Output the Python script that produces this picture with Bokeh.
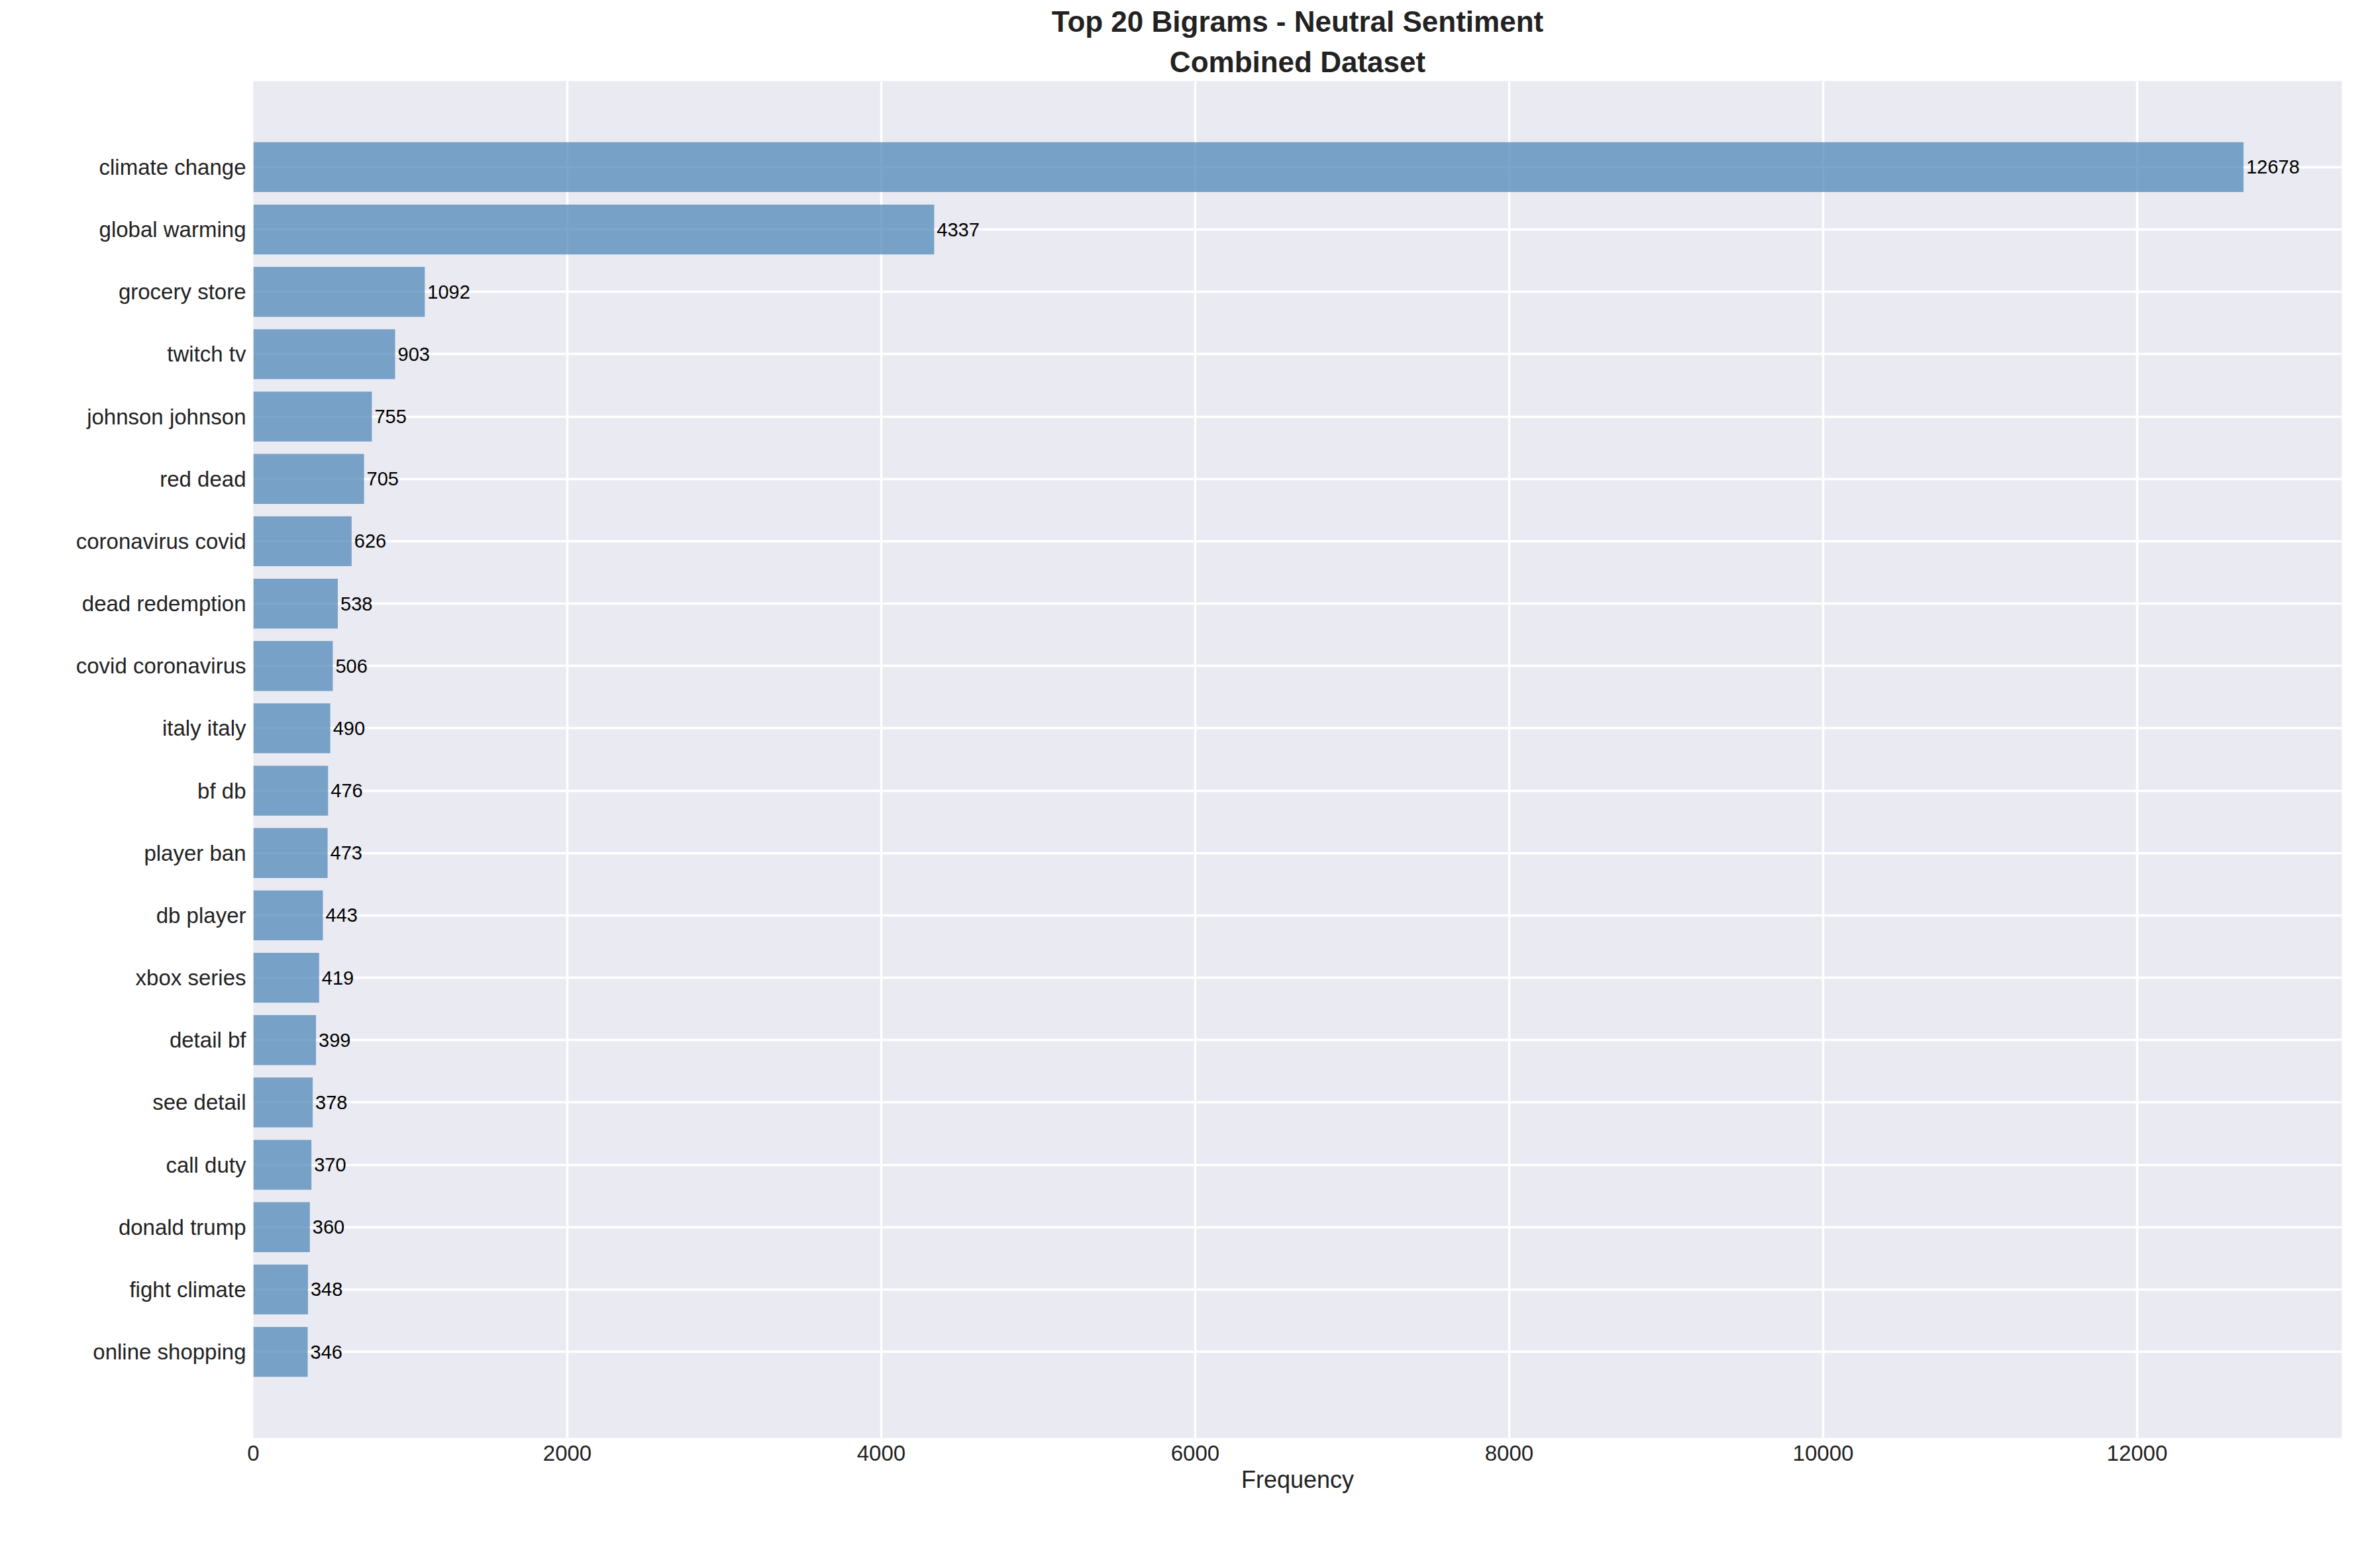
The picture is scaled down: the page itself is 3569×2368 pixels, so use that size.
from bokeh.plotting import figure
from bokeh.models import Range1d, FixedTicker, Title, ColumnDataSource
from bokeh.core.properties import value
from bokeh.embed import file_html
from bokeh.resources import INLINE

# data
bigrams = ["climate change", "global warming", "grocery store", "twitch tv", "johnson johnson",
           "red dead", "coronavirus covid", "dead redemption", "covid coronavirus", "italy italy",
           "bf db", "player ban", "db player", "xbox series", "detail bf", "see detail",
           "call duty", "donald trump", "fight climate", "online shopping"]
counts = [12678, 4337, 1092, 903, 755, 705, 626, 538, 506, 490,
          476, 473, 443, 419, 399, 378, 370, 360, 348, 346]

n = len(bigrams)
ypos = [n - 1 - i for i in range(n)]
src = ColumnDataSource(dict(y=ypos, c=counts, lab=[str(v) for v in counts]))

FONT = "Liberation Sans"
p = figure(frame_width=3153, frame_height=2049, output_backend="svg", toolbar_location=None,
           x_range=Range1d(0, 13304), y_range=Range1d(-1.38, n - 1 + 1.38),
           min_border_left=382, min_border_right=20, min_border_top=50, min_border_bottom=140)
p.background_fill_color = "#EAEAF2"
p.border_fill_color = "white"
p.outline_line_color = None

p.hbar(y="y", right="c", left=0, height=0.8, source=src,
       fill_color="steelblue", fill_alpha=0.7, line_color=None)
p.text(x="c", y="y", text="lab", source=src, x_offset=4, text_baseline="middle",
       text_font=value(FONT), text_font_size="29px", text_color="black")

p.yaxis.ticker = FixedTicker(ticks=ypos)
p.yaxis.major_label_overrides = {y: b for y, b in zip(ypos, bigrams)}
p.xaxis.ticker = FixedTicker(ticks=[0, 2000, 4000, 6000, 8000, 10000, 12000])
p.ygrid.ticker = FixedTicker(ticks=ypos)
for ax in (p.xaxis, p.yaxis):
    ax.axis_line_color = None
    ax.major_tick_line_color = None
    ax.minor_tick_line_color = None
    ax.major_label_text_font = FONT
    ax.major_label_text_font_size = "33px"
    ax.major_label_text_color = "#222222"
p.xaxis.axis_label = "Frequency"
p.xaxis.axis_label_text_font = FONT
p.xaxis.axis_label_text_font_size = "36px"
p.xaxis.axis_label_text_font_style = "normal"
p.xaxis.axis_label_text_color = "#222222"
p.grid.grid_line_color = "white"
p.grid.grid_line_width = 3.5

p.title.text = "Top 20 Bigrams - Neutral Sentiment"
p.title.align = "center"
p.title.text_font = FONT
p.title.text_font_size = "44px"
p.title.text_color = "#222222"
p.add_layout(Title(text="Combined Dataset", align="center",
                   text_font=FONT, text_font_size="44px", text_color="#222222"), "above")

open("out.html", "w").write(file_html(p, INLINE))
